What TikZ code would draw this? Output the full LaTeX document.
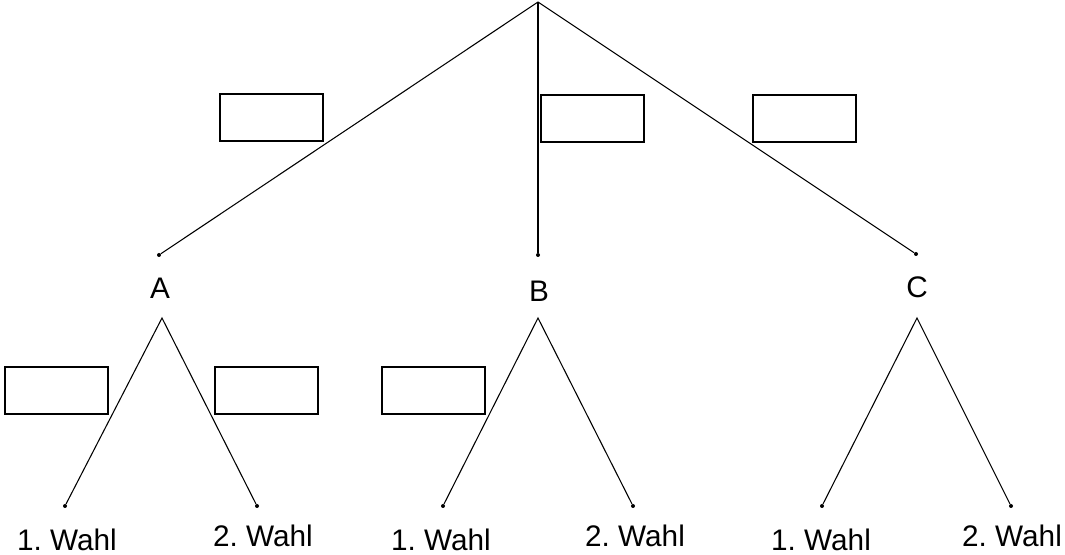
\documentclass[tikz,border=0pt]{standalone}
\usepackage{fontspec}
\setmainfont{Liberation Sans}
\begin{document}
\begin{tikzpicture}[x=0.75pt,y=-0.75pt,
  edge/.style={line width=0.8pt,black},
  dot/.style={circle,fill=black,inner sep=0pt,minimum size=3pt},
  blank/.style={draw=black,line width=1.5pt,inner sep=0pt,minimum width=77.25pt,minimum height=35.25pt},
  lbl/.style={inner sep=0pt,font=\fontsize{22.3}{24}\selectfont\frenchspacing}]
\useasboundingbox (0,0) rectangle (1065,555);
% root
\coordinate (root) at (538,2);
% level 1 dots
\node[dot] (dA) at (159,255) {};
\node[dot] (dB) at (538,255) {};
\node[dot] (dC) at (916,254) {};
\draw[edge] (root) -- (dA);
\draw[edge] (root) -- (dB);
\draw[edge] (root) -- (dC);
% level 1 labels
\node[lbl] (A) at (160,288) {A};
\node[lbl] (B) at (539,291) {B};
\node[lbl] (C) at (917,287) {C};
% boxes level 1
\node[blank] (b1) at (271.5,118) {};
\node[blank] (b2) at (592,118.5) {};
\node[blank] (b3) at (804.5,118.5) {};
% apexes
\coordinate (aA) at (162,318);
\coordinate (aB) at (538,318);
\coordinate (aC) at (917,318);
% leaf dots
\node[dot] (lA1) at (65,506) {};
\node[dot] (lA2) at (257,506) {};
\node[dot] (lB1) at (443,506) {};
\node[dot] (lB2) at (633,506) {};
\node[dot] (lC1) at (822,506) {};
\node[dot] (lC2) at (1011,506) {};
\draw[edge] (lA1) -- (aA) -- (lA2);
\draw[edge] (lB1) -- (aB) -- (lB2);
\draw[edge] (lC1) -- (aC) -- (lC2);
% boxes level 2
\node[blank] (b4) at (56.5,391) {};
\node[blank] (b5) at (266,391) {};
\node[blank] (b6) at (433.5,391) {};
% leaf labels
\node[lbl] (tA1) at (67,540) {1. Wahl};
\node[lbl] (tA2) at (263,536) {2. Wahl};
\node[lbl] (tB1) at (441,540) {1. Wahl};
\node[lbl] (tB2) at (635,536) {2. Wahl};
\node[lbl] (tC1) at (821,540) {1. Wahl};
\node[lbl] (tC2) at (1012,536) {2. Wahl};
\end{tikzpicture}
\end{document}
